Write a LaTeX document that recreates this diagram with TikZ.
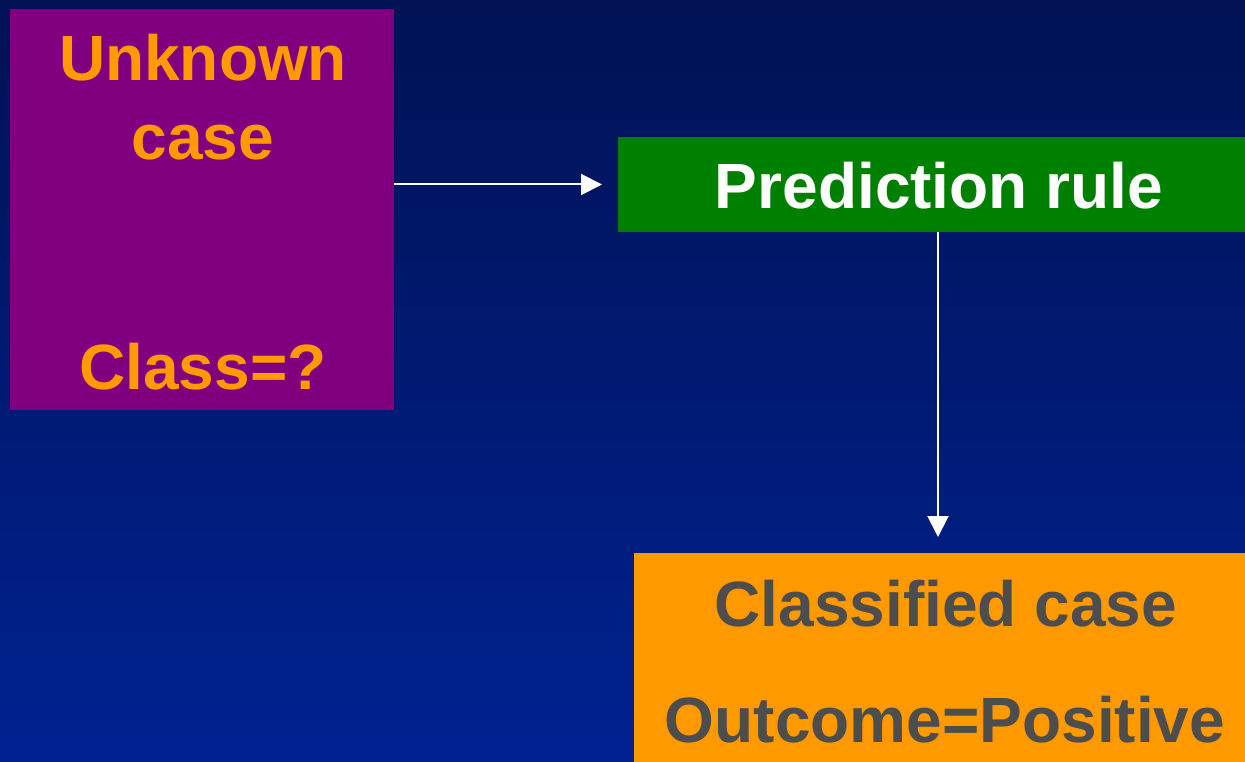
\documentclass[tikz,border=0pt]{standalone}
\usepackage{fontspec}
\setmainfont{Liberation Sans}
\usetikzlibrary{arrows.meta}
\definecolor{bgtop}{RGB}{0,18,84}
\definecolor{bgbot}{RGB}{0,34,145}
\definecolor{boxpurple}{RGB}{128,0,128}
\definecolor{boxgreen}{RGB}{0,128,0}
\definecolor{boxorange}{RGB}{255,153,0}
\definecolor{textgray}{RGB}{77,77,77}
\tikzset{
  box/.style={draw=none, inner sep=0pt, outer sep=0pt, anchor=north west},
  big/.style={font=\fontsize{64}{77}\selectfont\bfseries, inner sep=0pt, anchor=base},
  flow/.style={draw=white, line width=2pt, -{Triangle[length=21pt,width=21pt]}}
}
\begin{document}
\begin{tikzpicture}[x=1pt,y=-1pt]
  % page frame and blue gradient backdrop
  \useasboundingbox (0,0) rectangle (1245,762);
  \clip (0,0) rectangle (1245,762);
  \shade[top color=bgtop, bottom color=bgbot] (0,0) rectangle (1245,762);

  % boxes
  \node[box, fill=boxpurple, minimum width=384pt, minimum height=401pt] (unknown) at (10,9) {};
  \node[box, fill=boxgreen, minimum width=640pt, minimum height=95pt] (rule) at (618,137) {};
  \node[box, fill=boxorange, minimum width=622pt, minimum height=215pt] (classified) at (634,553) {};

  % box texts
  \node[big, text=boxorange] (t1) at (203,81) {Unknown};
  \node[big, text=boxorange] (t2) at (203,160) {case};
  \node[big, text=boxorange] (t3) at (203,389) {Class=?};
  \node[big, text=white] (t4) at (939,209) {Prediction rule};
  \node[big, text=textgray] (t5) at (946,626) {Classified case};
  \node[big, text=textgray] (t6) at (945,742) {Outcome=Positive};

  % connectors
  \draw[flow, shorten >=16pt] (unknown.east |- rule.west) -- (rule.west);
  \draw[flow, shorten >=16pt] (rule.south) -- (rule.south |- classified.north);
\end{tikzpicture}
\end{document}
